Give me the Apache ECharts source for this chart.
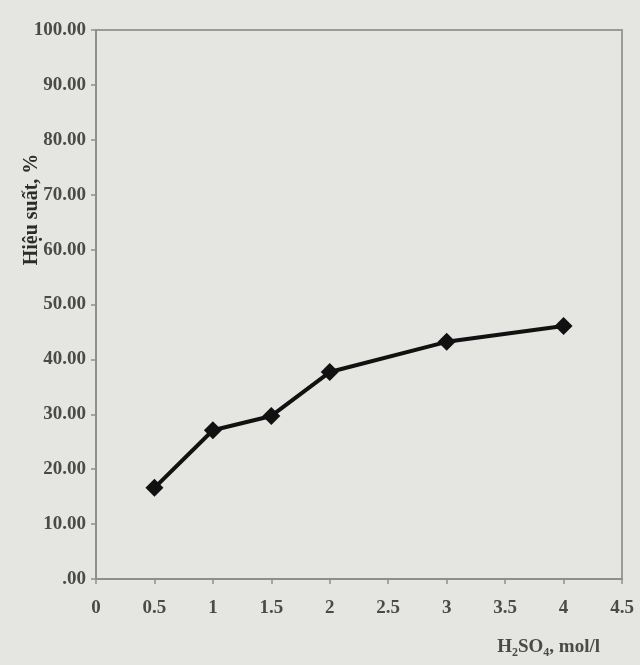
<!DOCTYPE html>
<html>
<head>
<meta charset="utf-8">
<script src="https://cdn.jsdelivr.net/npm/echarts@6/dist/echarts.min.js"></script>
<style>
  html, body { margin: 0; padding: 0; background: #e5e6e2; }
  #chart { width: 640px; height: 665px; }
</style>
</head>
<body>
<div id="chart"></div>
<script>
// Acid concentration (mol/l) and yield (%)
const concentrations = [0.5, 1, 1.5, 2, 3, 4];
const yieldPercent = [16.6, 27.1, 29.7, 37.7, 43.2, 46.1];
const xTicks = [0, 0.5, 1, 1.5, 2, 2.5, 3, 3.5, 4, 4.5];
const yTicks = [0, 10, 20, 30, 40, 50, 60, 70, 80, 90, 100];

const points = concentrations.map((c, i) => [c, yieldPercent[i]]);
const textColor = '#4a4a48';
const font = 'Liberation Serif';

const chart = echarts.init(document.getElementById('chart'));
chart.setOption({
  backgroundColor: '#e5e6e2',
  animation: false,
  grid: {
    left: 96, right: 18, top: 30, bottom: 86,
    containLabel: false, outerBoundsMode: 'none',
    show: true, borderColor: '#9a9b98', borderWidth: 2, backgroundColor: 'transparent'
  },
  xAxis: {
    type: 'value',
    min: xTicks[0],
    max: xTicks[xTicks.length - 1],
    interval: 0.5,
    splitLine: { show: false },
    axisLine: { lineStyle: { color: '#8e8f8c', width: 2 } },
    axisTick: { show: true, length: 5, lineStyle: { color: '#8e8f8c', width: 1.5 } },
    axisLabel: { color: textColor, fontFamily: font, fontWeight: 'bold', fontSize: 19, margin: 20 },
    name: '{b|H}{s|2}{b|SO}{s|4}{b|, mol/l}',
    nameLocation: 'end',
    nameGap: 0,
    nameTextStyle: {
      align: 'right',
      verticalAlign: 'top',
      padding: [56, 22, 0, 0],
      rich: {
        b: { color: textColor, fontFamily: font, fontWeight: 'bold', fontSize: 19 },
        s: { color: textColor, fontFamily: font, fontWeight: 'bold', fontSize: 12, padding: [12, 0, 0, 0] }
      }
    }
  },
  yAxis: {
    type: 'value',
    min: yTicks[0],
    max: yTicks[yTicks.length - 1],
    interval: 10,
    splitLine: { show: false },
    axisLine: { show: true, lineStyle: { color: '#8e8f8c', width: 2 } },
    axisTick: { show: true, length: 5, lineStyle: { color: '#8e8f8c', width: 1.5 } },
    axisLabel: {
      color: textColor, fontFamily: font, fontWeight: 'bold', fontSize: 19, margin: 10,
      formatter: v => v === 0 ? '.00' : v.toFixed(2)
    },
    name: 'Hiệu suất, %',
    nameLocation: 'middle',
    nameGap: 54,
    nameMoveOverlap: false,
    nameRotate: 90,
    nameTextStyle: { color: '#2c2c2a', fontFamily: font, fontWeight: 'bold', fontSize: 20, padding: [0, 0, 0, 190] }
  },
  series: [{
    type: 'line',
    data: points,
    symbol: 'diamond',
    symbolSize: 18,
    lineStyle: { color: '#111', width: 4 },
    itemStyle: { color: '#111' }
  }]
});
</script>
</body>
</html>
